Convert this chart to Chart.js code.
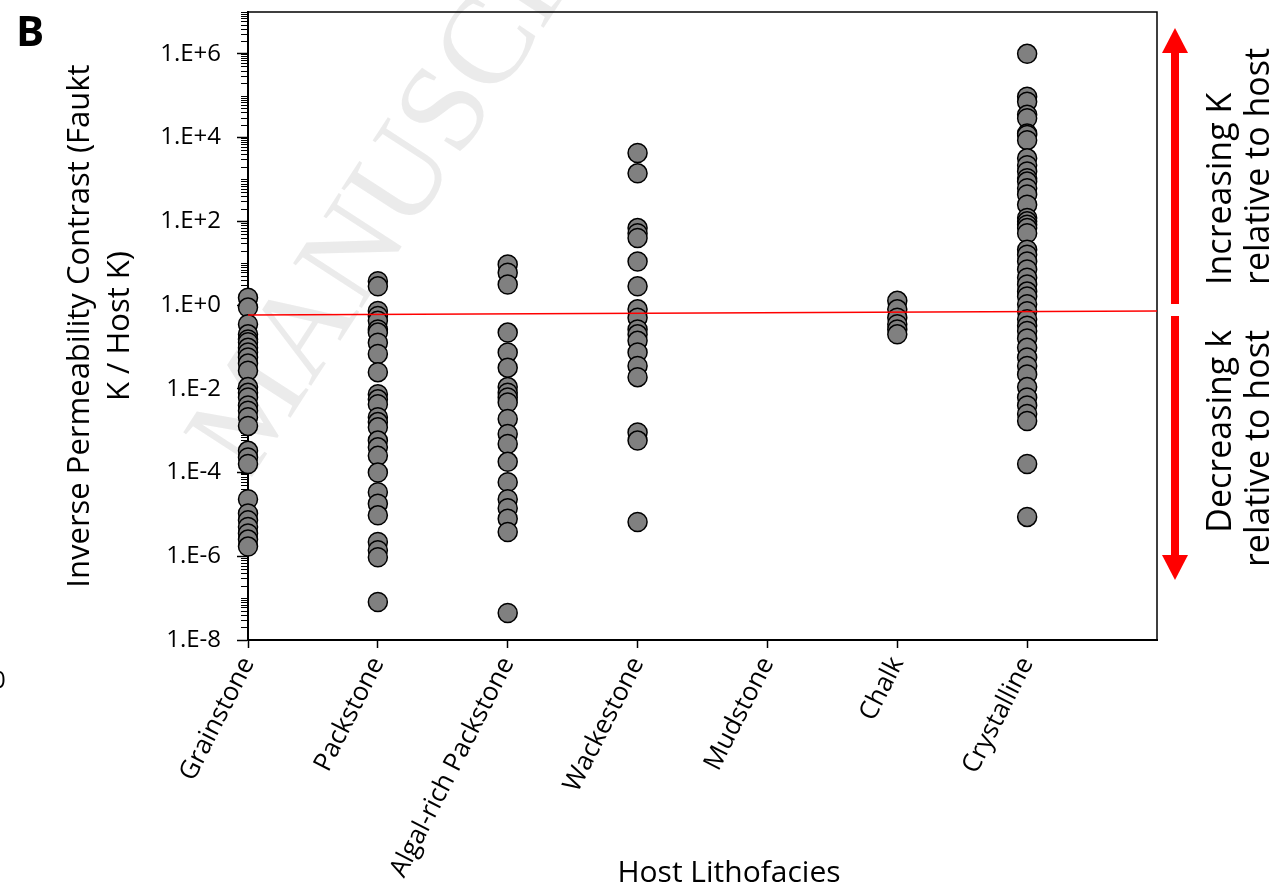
<!DOCTYPE html>
<html>
<head>
<meta charset="utf-8">
<script src="https://cdn.jsdelivr.net/npm/chart.js@4.4.0/dist/chart.umd.min.js"></script>
<style>
  html, body { margin: 0; padding: 0; background: #fff; }
  #wrap { width: 1278px; height: 890px; }
</style>
</head>
<body>
<div id="wrap"><canvas id="chart" width="1278" height="890"></canvas></div>
<script>
// categories along the x axis (one column of points each)
const lithofacies = ['Grainstone', 'Packstone', 'Algal-rich Packstone', 'Wackestone', 'Mudstone', 'Chalk', 'Crystalline'];

// inverse permeability contrast (fault K / host K) per host lithofacies
const grainstone = [1.5, 0.87, 0.35, 0.2, 0.15, 0.13, 0.095, 0.074, 0.056, 0.04, 0.027, 0.011, 0.008,
    0.0062, 0.004, 0.003, 0.0021, 0.0013, 3.3e-4, 2.3e-4, 1.6e-4, 2.3e-5, 1.05e-5, 7.2e-6, 5.0e-6,
    3.5e-6, 2.5e-6, 1.7e-6];
const packstone = [3.7, 2.8, 0.72, 0.55, 0.42, 0.26, 0.22, 0.126, 0.068, 0.025, 0.0074, 0.0056, 0.0043,
    0.0021, 0.0016, 0.0012, 5.8e-4, 4.0e-4, 2.5e-4, 1.0e-4, 3.4e-5, 1.8e-5, 9.5e-6, 2.2e-6, 1.4e-6,
    9.5e-7, 8.1e-8];
const algalPackstone = [9.3, 5.9, 3.1, 0.22, 0.074, 0.032, 0.011, 0.0081, 0.0062, 0.0047, 0.0019,
    8.3e-4, 4.8e-4, 1.8e-4, 5.9e-5, 2.3e-5, 1.4e-5, 7.9e-6, 3.8e-6, 4.4e-8];
const wackestone = [4300, 1400, 69, 52, 40, 11, 2.8, 0.79, 0.5, 0.26, 0.2, 0.14, 0.074, 0.035, 0.019,
    9.1e-4, 5.8e-4, 6.6e-6];
const mudstone = [];
const chalk = [1.26, 0.79, 0.5, 0.35, 0.26, 0.2];
const crystalline = [1.0e6, 9.5e4, 7.2e4, 3.5e4, 2.9e4, 1.26e4, 1.15e4, 8700, 3200, 2200, 1550, 1070,
    890, 620, 440, 250, 120, 100, 83, 69, 52, 21, 16, 11, 7.1, 4.5, 3.1, 2.1, 1.6, 1.05, 0.71, 0.46,
    0.32, 0.24, 0.16, 0.095, 0.056, 0.035, 0.022, 0.011, 0.0062, 0.004, 0.0025, 0.0017, 1.6e-4, 8.7e-6];

const seriesByFacies = [grainstone, packstone, algalPackstone, wackestone, mudstone, chalk, crystalline];

// red reference line (end points)
const trendX = [0, 7];
const trendY = [0.58, 0.72];

// labelled decades on the log axis
const yTickExps = [-8, -6, -4, -2, 0, 2, 4, 6];
const yMin = 1e-8;
const yMax = 1e7;

const FONT = "'Open Sans', 'DejaVu Sans', sans-serif";
Chart.defaults.font.family = FONT;
Chart.defaults.color = '#000';

function expLabel(v) {
    const e = Math.round(Math.log10(v));
    return '1.E' + (e < 0 ? '-' : '+') + Math.abs(e);
}

// extras drawn straight onto the canvas: watermark, frame, minor ticks, arrows, side notes
const decorations = {
    id: 'decorations',
    beforeDraw(chart) {
        const ctx = chart.ctx;
        ctx.save();
        ctx.fillStyle = '#fff';
        ctx.fillRect(0, 0, chart.width, chart.height);
        // faint watermark
        ctx.translate(250, 480);
        ctx.rotate(-57 * Math.PI / 180);
        ctx.font = "125px 'Liberation Serif', serif";
        ctx.fillStyle = 'rgba(205, 205, 205, 0.4)';
        ctx.textBaseline = 'alphabetic';
        ctx.fillText('MANUSCRIPT', 0, 0);
        ctx.restore();
    },
    beforeDatasetsDraw(chart) {
        const ctx = chart.ctx;
        const area = chart.chartArea;
        const y = chart.scales.y;
        ctx.save();
        // top / right frame
        ctx.strokeStyle = '#000';
        ctx.lineWidth = 1.5;
        ctx.beginPath();
        ctx.moveTo(area.left, area.top);
        ctx.lineTo(area.right, area.top);
        ctx.lineTo(area.right, area.bottom);
        ctx.stroke();
        // minor log ticks
        ctx.lineWidth = 1;
        ctx.beginPath();
        for (let e = -8; e <= 6; e++) {
            for (let k = 1; k <= 10; k++) {
                if (k === 1 && e % 2 === 0) continue;
                const v = k * Math.pow(10, e);
                if (v > yMax) continue;
                const py = Math.round(y.getPixelForValue(v)) + 0.5;
                ctx.moveTo(area.left - 7, py);
                ctx.lineTo(area.left, py);
            }
        }
        ctx.stroke();
        ctx.restore();
    },
    afterDraw(chart) {
        const ctx = chart.ctx;
        ctx.save();

        // panel letter and the clipped tick from the neighbouring panel
        ctx.fillStyle = '#000';
        ctx.font = 'bold 42px ' + FONT;
        ctx.textAlign = 'left';
        ctx.textBaseline = 'alphabetic';
        ctx.fillText('B', 16, 46);
        ctx.font = '24px ' + FONT;
        ctx.fillText('0', -8, 688);

        // x axis title
        ctx.font = '30px ' + FONT;
        ctx.textAlign = 'center';
        ctx.fillText('Host Lithofacies', 729, 882);

        // double red arrows on the right
        const ax = 1175;
        ctx.fillStyle = '#ff0000';
        const arrow = (tipY, baseY, tailY) => {
            const dir = tipY < baseY ? 1 : -1;
            ctx.fillRect(ax - 4, Math.min(baseY, tailY), 8, Math.abs(tailY - baseY));
            ctx.beginPath();
            ctx.moveTo(ax, tipY);
            ctx.lineTo(ax - 13, tipY + dir * 25);
            ctx.lineTo(ax + 13, tipY + dir * 25);
            ctx.closePath();
            ctx.fill();
        };
        arrow(28, 52, 304);
        arrow(580, 556, 316);

        // side notes
        ctx.fillStyle = '#000';
        ctx.font = '34px ' + FONT;
        ctx.textBaseline = 'middle';
        const note = (text, x, y, align) => {
            ctx.save();
            ctx.translate(x, y);
            ctx.rotate(-Math.PI / 2);
            ctx.textAlign = align;
            ctx.fillText(text, 0, 0);
            ctx.restore();
        };
        note('Increasing K', 1221, 285, 'left');
        note('relative to host', 1259, 285, 'left');
        note('Decreasing k', 1221, 330, 'right');
        note('relative to host', 1259, 330, 'right');
        ctx.restore();
    }
};

const datasets = [{
    label: 'trend',
    data: trendX.map((x, i) => ({ x: x, y: trendY[i] })),
    showLine: true,
    borderColor: '#ff0000',
    borderWidth: 1.5,
    pointRadius: 0,
    clip: false,
    order: -1
}];
seriesByFacies.forEach((vals, i) => {
    datasets.push({
        label: lithofacies[i],
        data: vals.map(v => ({ x: i, y: v })),
        pointRadius: 9.5,
        pointBackgroundColor: '#808080',
        pointBorderColor: '#000',
        pointBorderWidth: 1.5,
        clip: false
    });
});

new Chart(document.getElementById('chart'), {
    type: 'scatter',
    data: { datasets: datasets },
    plugins: [decorations],
    options: {
        responsive: false,
        animation: false,
        events: [],
        devicePixelRatio: 1,
        layout: { padding: { left: 60, right: 121, top: 12, bottom: 0 } },
        plugins: {
            legend: { display: false },
            tooltip: { enabled: false }
        },
        scales: {
            x: {
                type: 'linear',
                min: 0,
                max: 7,
                afterBuildTicks: scale => {
                    scale.ticks = lithofacies.map((_, i) => ({ value: i }));
                },
                afterFit: scale => { scale.height = 250; },
                ticks: {
                    autoSkip: false,
                    minRotation: 63,
                    maxRotation: 63,
                    padding: 4,
                    font: { size: 26 },
                    color: '#000',
                    callback: v => lithofacies[v]
                },
                grid: {
                    drawOnChartArea: false,
                    tickLength: 8,
                    tickColor: '#000',
                    tickWidth: 1.5
                },
                border: { display: true, color: '#000', width: 2 }
            },
            y: {
                type: 'logarithmic',
                min: yMin,
                max: yMax,
                afterBuildTicks: scale => {
                    scale.ticks = yTickExps.map(e => ({ value: Math.pow(10, e) }));
                },
                afterFit: scale => {
                    scale.width = 188;
                    scale.paddingTop = 0;
                    scale.paddingBottom = 0;
                },
                ticks: {
                    autoSkip: false,
                    padding: 16,
                    font: { size: 24 },
                    color: '#000',
                    callback: v => expLabel(v)
                },
                grid: {
                    drawOnChartArea: false,
                    tickLength: 11,
                    tickColor: '#000',
                    tickWidth: 1.5
                },
                border: { display: true, color: '#000', width: 2 },
                title: {
                    display: true,
                    text: ['Inverse Permeability Contrast (Faukt', 'K / Host K)'],
                    font: { size: 31, lineHeight: 40 / 31 },
                    color: '#000',
                    padding: { top: 0, bottom: 0 }
                }
            }
        }
    }
});
</script>
</body>
</html>
